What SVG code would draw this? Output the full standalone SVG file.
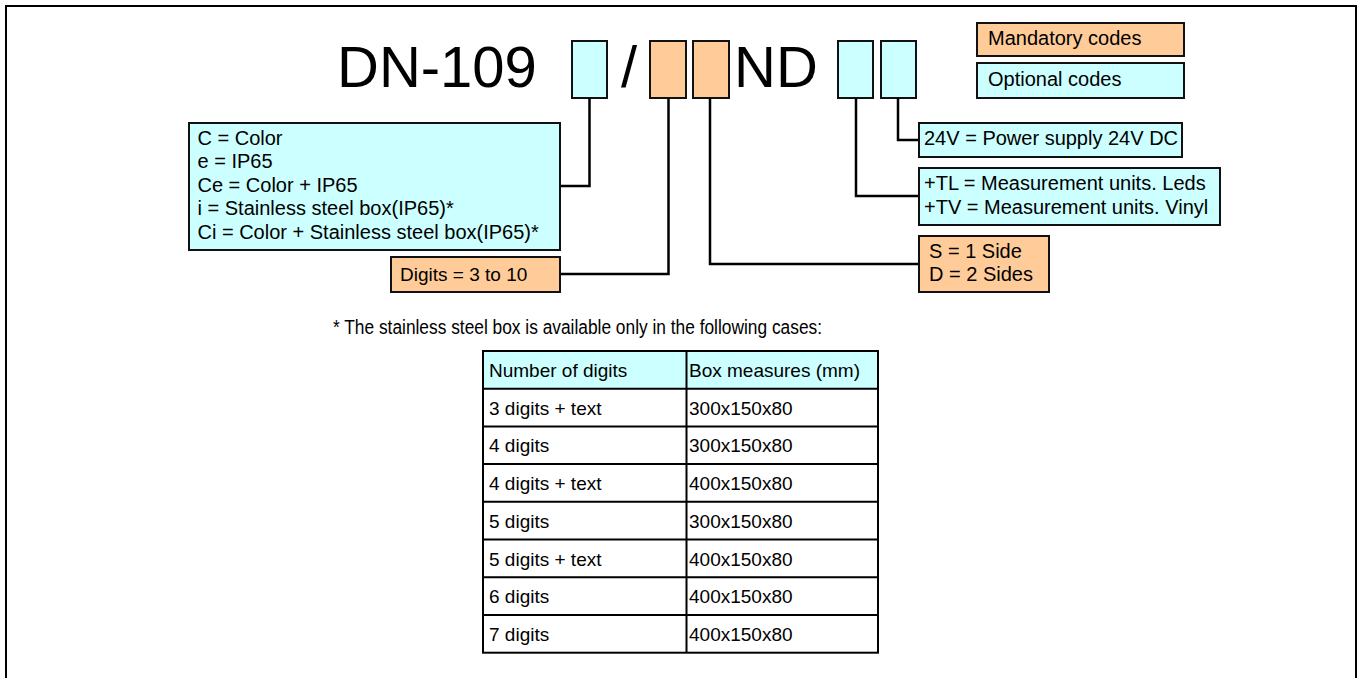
<svg xmlns="http://www.w3.org/2000/svg" width="1361" height="678" viewBox="0 0 1361 678">
<style>
text{font-family:"Liberation Sans",Arial,sans-serif;fill:#000}
.opt{fill:#CCFFFF;stroke:#111;stroke-width:2}
.man{fill:#FFCC99;stroke:#111;stroke-width:2}
.lbl{font-size:20px}
.tb{font-size:19px}
.con{fill:none;stroke:#000;stroke-width:2.5}
.grid{stroke:#000;stroke-width:2;fill:none}
</style>
<rect x="0" y="0" width="1361" height="678" fill="#fff"/>
<rect x="6" y="6" width="1350" height="700" fill="none" stroke="#000" stroke-width="2"/>

<g id="title">
<text x="337" y="87" font-size="58">DN-109</text>
<text x="621" y="87" font-size="58">/</text>
<text x="734" y="87" font-size="58">ND</text>
</g>
<g id="code1"><rect class="opt" x="572" y="41" width="35" height="57"/></g>
<g id="code2"><rect class="man" x="650" y="41" width="36" height="57"/></g>
<g id="code3"><rect class="man" x="693" y="41" width="36" height="57"/></g>
<g id="code4"><rect class="opt" x="838" y="41" width="35" height="57"/></g>
<g id="code5"><rect class="opt" x="881" y="41" width="35" height="57"/></g>

<g id="legend-mandatory"><rect class="man" x="977" y="23" width="207" height="33"/><text class="lbl" x="988" y="45">Mandatory codes</text></g>
<g id="legend-optional"><rect class="opt" x="977" y="63" width="207" height="35"/><text class="lbl" x="988" y="86">Optional codes</text></g>

<g id="connectors">
<path class="con" d="M589.5 98 V186 H560"/>
<path class="con" d="M668.5 98 V274 H560"/>
<path class="con" d="M710 98 V264 H919"/>
<path class="con" d="M856 98 V196 H919"/>
<path class="con" d="M898 98 V140 H919"/>
</g>

<g id="color-box">
<rect class="opt" x="189" y="123" width="371" height="127"/>
<text class="lbl" x="197.5" y="145">C = Color</text>
<text class="lbl" x="197.5" y="168">e  = IP65</text>
<text class="lbl" x="197.5" y="191.5">Ce = Color + IP65</text>
<text class="lbl" x="197.5" y="215">i = Stainless steel box(IP65)*</text>
<text class="lbl" x="197.5" y="238.5">Ci = Color + Stainless steel box(IP65)*</text>
</g>
<g id="digits-box">
<rect class="man" x="391" y="257" width="169" height="35"/>
<text x="400" y="281" style="font-size:19px">Digits = 3 to 10</text>
</g>
<g id="power-box">
<rect class="opt" x="919" y="123" width="263" height="34"/>
<text class="lbl" x="924" y="145">24V = Power supply 24V DC</text>
</g>
<g id="units-box">
<rect class="opt" x="919" y="168" width="301" height="57"/>
<text class="lbl" x="924" y="190">+TL = Measurement units. Leds</text>
<text class="lbl" x="924" y="214">+TV = Measurement units. Vinyl</text>
</g>
<g id="sides-box">
<rect class="man" x="919" y="236" width="130" height="56"/>
<text class="lbl" x="929" y="257.5">S = 1 Side</text>
<text class="lbl" x="929" y="281">D = 2 Sides</text>
</g>

<g id="footnote">
<text x="333" y="334" style="font-size:19.5px" textLength="489" lengthAdjust="spacingAndGlyphs">* The stainless steel box is available only in the following cases:</text>
</g>

<g id="table">
<rect x="483" y="351" width="395" height="37.7" fill="#CCFFFF"/>
<rect class="grid" x="483" y="351" width="395" height="301.7"/>
<path class="grid" d="M686.5 351 V652.7 M483 388.7 H878 M483 426.4 H878 M483 464.1 H878 M483 501.8 H878 M483 539.6 H878 M483 577.3 H878 M483 615 H878"/>
<g class="tb">
<text x="489" y="377" style="font-size:19px">Number of digits</text>
<text x="689" y="377" style="font-size:19px">Box measures (mm)</text>
<text x="489" y="414.7" style="font-size:19px">3 digits + text</text>
<text x="689" y="414.7" style="font-size:19px">300x150x80</text>
<text x="489" y="452.4" style="font-size:19px">4 digits</text>
<text x="689" y="452.4" style="font-size:19px">300x150x80</text>
<text x="489" y="490.1" style="font-size:19px">4 digits + text</text>
<text x="689" y="490.1" style="font-size:19px">400x150x80</text>
<text x="489" y="527.8" style="font-size:19px">5 digits</text>
<text x="689" y="527.8" style="font-size:19px">300x150x80</text>
<text x="489" y="565.6" style="font-size:19px">5 digits + text</text>
<text x="689" y="565.6" style="font-size:19px">400x150x80</text>
<text x="489" y="603.3" style="font-size:19px">6 digits</text>
<text x="689" y="603.3" style="font-size:19px">400x150x80</text>
<text x="489" y="641" style="font-size:19px">7 digits</text>
<text x="689" y="641" style="font-size:19px">400x150x80</text>
</g>
</g>
</svg>
